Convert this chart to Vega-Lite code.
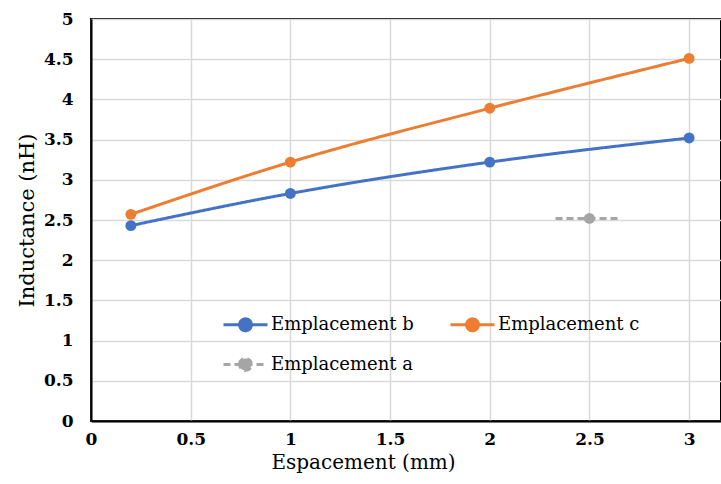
{
  "$schema": "https://vega.github.io/schema/vega-lite/v6.json",
  "width": 630,
  "height": 402,
  "autosize": {"type": "none"},
  "padding": {"left": 91, "top": 19, "right": 0, "bottom": 63},
  "background": "white",
  "config": {
    "view": {"stroke": "black", "strokeWidth": 2},
    "font": "DejaVu Serif"
  },
  "data": {"values": [
    {"series": "Emplacement b", "x": 0.2, "y": 2.43},
    {"series": "Emplacement b", "x": 1, "y": 2.83},
    {"series": "Emplacement b", "x": 2, "y": 3.22},
    {"series": "Emplacement b", "x": 3, "y": 3.52},
    {"series": "Emplacement c", "x": 0.2, "y": 2.57},
    {"series": "Emplacement c", "x": 1, "y": 3.22},
    {"series": "Emplacement c", "x": 2, "y": 3.89},
    {"series": "Emplacement c", "x": 3, "y": 4.51},
    {"series": "Emplacement a", "x": 2.33, "y": 2.52},
    {"series": "Emplacement a", "x": 2.5, "y": 2.52},
    {"series": "Emplacement a", "x": 2.65, "y": 2.52}
  ]},
  "encoding": {
    "x": {"field": "x", "type": "quantitative",
      "scale": {"domain": [0, 3.16], "nice": false, "zero": false},
      "axis": {"values": [0, 0.5, 1, 1.5, 2, 2.5, 3], "format": "~g", "title": "Espacement (mm)",
        "grid": true, "gridColor": "#d9d9d9", "gridWidth": 1.5, "domainColor": "black", "domainWidth": 2,
        "ticks": false, "labelFont": "DejaVu Serif", "labelFontWeight": "bold", "labelFontSize": 17, "labelColor": "black",
        "labelPadding": 10, "labelFlush": false,
        "titleFont": "DejaVu Serif", "titleFontWeight": "normal", "titleFontSize": 20, "titleColor": "black",
        "titlePadding": 5, "titleX": 272, "titleAnchor": "middle"}},
    "y": {"field": "y", "type": "quantitative",
      "scale": {"domain": [0, 5], "nice": false},
      "axis": {"values": [0, 0.5, 1, 1.5, 2, 2.5, 3, 3.5, 4, 4.5, 5], "format": "~g", "title": "Inductance (nH)",
        "grid": true, "gridColor": "#d9d9d9", "gridWidth": 1.5, "domainColor": "black", "domainWidth": 2,
        "ticks": false, "labelFont": "DejaVu Serif", "labelFontWeight": "bold", "labelFontSize": 17, "labelColor": "black",
        "labelPadding": 18, "labelFlush": false,
        "titleFont": "DejaVu Serif", "titleFontWeight": "normal", "titleFontSize": 21, "titleColor": "black",
        "titlePadding": 6}},
    "color": {"field": "series", "type": "nominal",
      "scale": {"domain": ["Emplacement b", "Emplacement a", "Emplacement c"], "range": ["#4472C4", "#A5A5A5", "#ED7D31"]},
      "legend": {"title": null, "orient": "none", "legendX": 131, "legendY": 282, "columns": 2, "columnPadding": 30, "rowPadding": 4,
        "symbolType": "M-1,0H1M-0.27,0A0.27,0.27 0 1,1 0.27,0A0.27,0.27 0 1,1 -0.27,0Z",
        "symbolSize": 1936, "symbolStrokeWidth": 3, "labelFont": "DejaVu Serif", "labelFontSize": 18, "labelColor": "black",
        "labelOffset": 2, "labelLimit": 300,
        "encode": {"symbols": {"update": {"fill": {"scale": "color", "field": "value"}}}}}},
    "strokeDash": {"field": "series", "type": "nominal",
      "scale": {"domain": ["Emplacement b", "Emplacement a", "Emplacement c"], "range": [[1, 0], [7, 4], [1, 0]]},
      "legend": null}
  },
  "layer": [
    {"mark": {"type": "line", "strokeWidth": 3, "interpolate": "monotone"}},
    {"mark": {"type": "point", "filled": true, "size": 120, "opacity": 1, "shape": "circle"},
     "transform": [{"filter": "datum.series != 'Emplacement a' || datum.x == 2.5"}]}
  ]
}
